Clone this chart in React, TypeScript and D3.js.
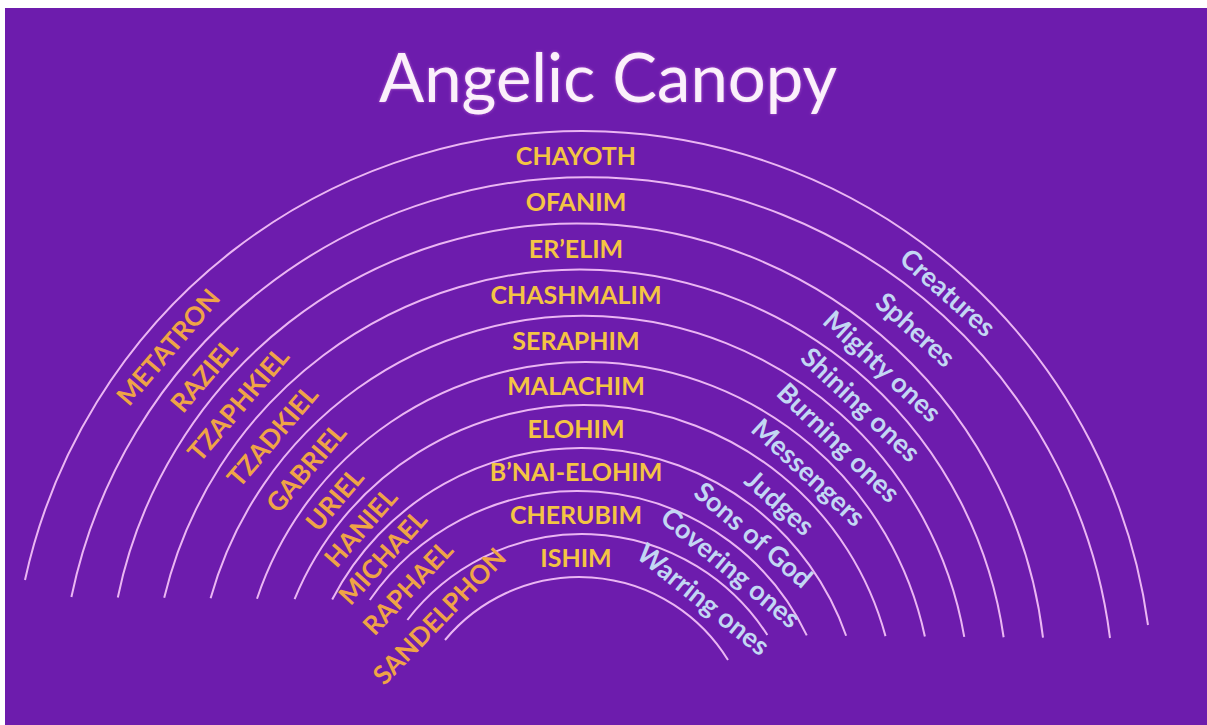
import React from "react";
import * as d3 from "d3";

const W = 1207;
const H = 725;

// ring labels, outermost ring first
const centerNames = ["CHAYOTH", "OFANIM", "ER’ELIM", "CHASHMALIM", "SERAPHIM", "MALACHIM", "ELOHIM", "B’NAI-ELOHIM", "CHERUBIM", "ISHIM"];
const leftNames = ["METATRON", "RAZIEL", "TZAPHKIEL", "TZADKIEL", "GABRIEL", "URIEL", "HANIEL", "MICHAEL", "RAPHAEL", "SANDELPHON"];
const rightNames = ["Creatures", "Spheres", "Mighty ones", "Shining ones", "Burning ones", "Messengers", "Judges", "Sons of God", "Covering ones", "Warring ones"];

// 11 arcs bound the 10 rings
const arcIds = d3.range(centerNames.length + 1);

// layout: arc index -> pixels
const apexY = d3.scaleLinear().domain([0, 5, 10]).range([131, 362, 577]);
const footLeftX = d3.scaleLinear().domain([0, 5, 10]).range([25, 257, 445]);
const footLeftY = d3.scaleLinear().domain([0, 1, 8, 10]).range([580, 597, 600, 640]);
const footRightX = d3.scaleLinear().domain([0, 1, 2, 10]).range([1148, 1110, 1043, 728]);
const footRightY = d3.scaleLinear().domain([0, 1, 9, 10]).range([625, 638, 635, 660]);
// label angle from vertical (degrees), ring index -> angle
const leftAngle = d3.scaleLinear().domain([0, 5, 10]).range([49.5, 49.5, 45]);
const rightAngle = d3.scaleLinear().domain([0, 4, 10]).range([41.5, 44, 37.5]);

const centerX = 576;

// circle through both feet with a horizontal tangent at the apex height
function fitArc(i: number) {
  const top = apexY(i);
  const xl = footLeftX(i), yl = footLeftY(i);
  const xr = footRightX(i), yr = footRightY(i);
  const a = yl - top, b = yr - top;
  const A = b - a;
  const B = 2 * (a * xr - b * xl);
  const C = b * xl * xl - a * xr * xr + a * b * (a - b);
  let cx;
  if (Math.abs(A) < 1e-6) cx = -C / B;
  else {
    const s = Math.sqrt(B * B - 4 * A * C);
    const r1 = (-B + s) / (2 * A), r2 = (-B - s) / (2 * A);
    cx = r1 > xl && r1 < xr ? r1 : r2;
  }
  const r = ((cx - xl) ** 2 + a * a) / (2 * a);
  const cy = top + r;
  const a0 = Math.atan2(yl - cy, xl - cx);
  const a1 = Math.atan2(yr - cy, xr - cx);
  const p = d3.path();
  p.arc(cx, cy, r, a0, a1, false);
  return { cx, cy, r, d: p.toString() };
}

const arcs = arcIds.map(fitArc);

function onRing(k: number, deg: number, side: number) {
  const t = (deg * Math.PI) / 180;
  const pts = [arcs[k], arcs[k + 1]].map((c) => [c.cx + side * c.r * Math.sin(t), c.cy - c.r * Math.cos(t)]);
  return [d3.mean(pts, (p) => p[0]) as number, d3.mean(pts, (p) => p[1]) as number];
}

export default function App() {
  return (
    <svg width={W} height={H} style={{ position: "absolute", left: 0, top: 0 }} fontFamily="Lato, 'Open Sans', sans-serif">
      <defs>
        <filter id="glow" x="-10%" y="-30%" width="120%" height="160%">
          <feGaussianBlur in="SourceAlpha" stdDeviation="1.5" result="b" />
          <feFlood floodColor="#e48ae8" floodOpacity="0.6" />
          <feComposite in2="b" operator="in" result="g" />
          <feMerge>
            <feMergeNode in="g" />
            <feMergeNode in="SourceGraphic" />
          </feMerge>
        </filter>
      </defs>
      <rect width={W} height={H} fill="#ffffff" />
      <rect x={5} y={8} width={W - 5} height={H - 8} fill="#6d1cad" />

      <text x={608} y={102} textAnchor="middle" fontSize={67} fill="#fbf0fb" filter="url(#glow)">
        Angelic Canopy
      </text>

      <g fill="none" stroke="#ebb6f3" strokeWidth={2}>
        {arcs.map((a, i) => (
          <path key={i} d={a.d} />
        ))}
      </g>

      <g fontWeight={700} fontSize={25} fill="#f4c443" textAnchor="middle" dominantBaseline="central">
        {centerNames.map((n, k) => (
          <text key={n} x={centerX} y={(apexY(k) + apexY(k + 1)) / 2 + 1}>
            {n}
          </text>
        ))}
      </g>

      <g fontWeight={700} fontSize={26} fill="#efa446" textAnchor="middle" dominantBaseline="central">
        {leftNames.map((n, k) => {
          const ang = leftAngle(k);
          const [x, y] = onRing(k, ang, -1);
          return (
            <text key={n} transform={`translate(${x},${y}) rotate(${-ang})`}>
              {n}
            </text>
          );
        })}
      </g>

      <g fontWeight={700} fontSize={27} fill="#c3d7f3" textAnchor="middle" dominantBaseline="central">
        {rightNames.map((n, k) => {
          const ang = rightAngle(k);
          const [x, y] = onRing(k, ang, 1);
          return (
            <text key={n} transform={`translate(${x},${y}) rotate(${ang})`}>
              {n}
            </text>
          );
        })}
      </g>
    </svg>
  );
}
